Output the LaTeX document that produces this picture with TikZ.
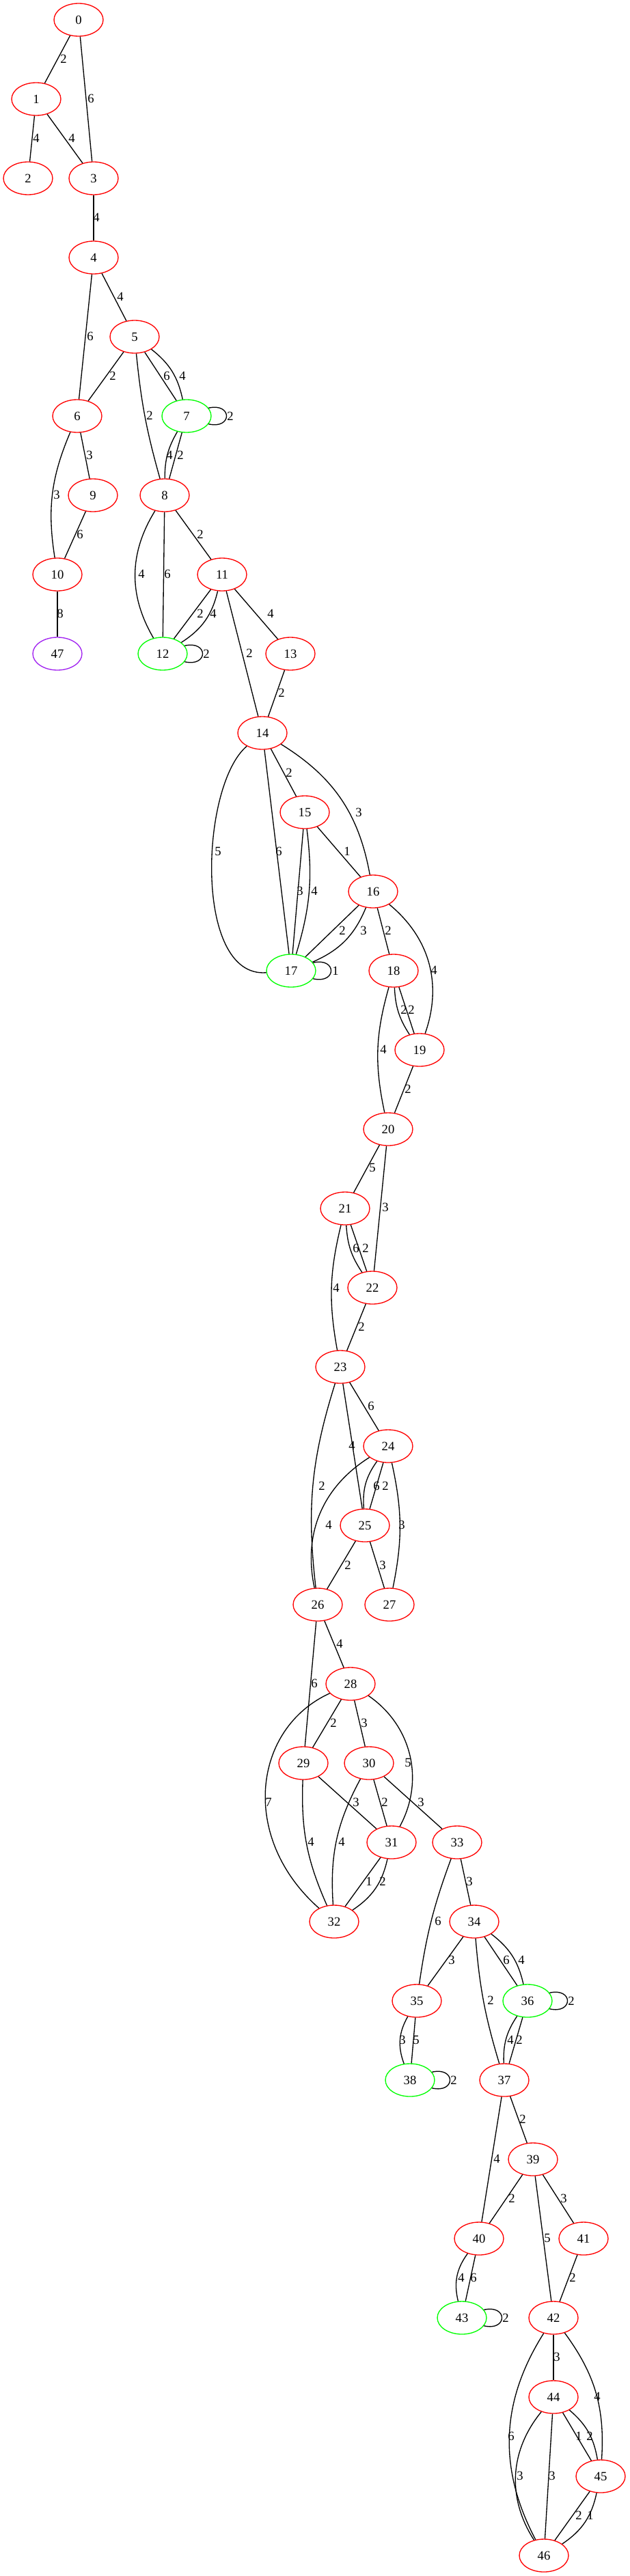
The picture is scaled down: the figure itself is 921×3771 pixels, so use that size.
\documentclass[tikz,border=0pt]{standalone}
\usepackage{fontspec}
\setmainfont{Liberation Serif}
\usetikzlibrary{shapes.geometric}
\definecolor{gvred}{RGB}{255,0,0}
\definecolor{gvgreen}{RGB}{0,255,0}
\definecolor{gvpurple}{RGB}{160,32,240}
\begin{document}
\begin{tikzpicture}[x=0.75pt,y=0.75pt,
  gv/.style={ellipse,draw,line width=1pt,minimum width=54pt,minimum height=36pt,inner sep=0pt,font=\fontsize{14}{16}\selectfont},
  rn/.style={gv,draw=gvred},
  gn/.style={gv,draw=gvgreen},
  pn/.style={gv,draw=gvpurple},
  lbl/.style={inner sep=0pt,font=\fontsize{14}{16}\selectfont},
  ed/.style={line width=1pt,black}]
\useasboundingbox (0,0) rectangle (921,-3771);
% nodes
\node[rn] (n0) at (115,-29) {0};
\node[rn] (n1) at (53,-145) {1};
\node[rn] (n2) at (41,-261) {2};
\node[rn] (n3) at (137,-261) {3};
\node[rn] (n4) at (137,-377) {4};
\node[rn] (n5) at (197,-493) {5};
\node[rn] (n6) at (113,-609) {6};
\node[gn] (n7) at (273,-609) {7};
\node[rn] (n8) at (241,-725) {8};
\node[rn] (n9) at (136,-725) {9};
\node[rn] (n10) at (84,-841) {10};
\node[rn] (n11) at (325,-841) {11};
\node[pn] (n47) at (84,-957) {47};
\node[gn] (n12) at (238,-957) {12};
\node[rn] (n13) at (425,-957) {13};
\node[rn] (n14) at (384,-1073) {14};
\node[rn] (n15) at (446,-1189) {15};
\node[rn] (n16) at (546,-1305) {16};
\node[gn] (n17) at (426,-1421) {17};
\node[rn] (n18) at (576,-1421) {18};
\node[rn] (n19) at (614,-1537) {19};
\node[rn] (n20) at (568,-1653) {20};
\node[rn] (n21) at (505,-1769) {21};
\node[rn] (n22) at (545,-1885) {22};
\node[rn] (n23) at (498,-2001) {23};
\node[rn] (n24) at (568,-2117) {24};
\node[rn] (n25) at (534,-2233) {25};
\node[rn] (n26) at (465,-2349) {26};
\node[rn] (n27) at (570,-2349) {27};
\node[rn] (n28) at (513,-2465) {28};
\node[rn] (n29) at (444,-2581) {29};
\node[rn] (n30) at (540,-2581) {30};
\node[rn] (n31) at (573,-2697) {31};
\node[rn] (n33) at (669,-2697) {33};
\node[rn] (n32) at (489,-2813) {32};
\node[rn] (n34) at (694,-2813) {34};
\node[rn] (n35) at (610,-2929) {35};
\node[gn] (n36) at (772,-2929) {36};
\node[rn] (n37) at (738,-3045) {37};
\node[gn] (n38) at (600,-3045) {38};
\node[rn] (n39) at (780,-3161) {39};
\node[rn] (n40) at (701,-3277) {40};
\node[rn] (n41) at (854,-3277) {41};
\node[rn] (n42) at (810,-3393) {42};
\node[gn] (n43) at (676,-3393) {43};
\node[rn] (n44) at (810,-3509) {44};
\node[rn] (n45) at (879,-3625) {45};
\node[rn] (n46) at (796,-3741) {46};
% edges
\draw[ed] (n0) -- (n1);
\draw[ed] (n0) -- (n3);
\draw[ed] (n1) -- (n2);
\draw[ed] (n1) -- (n3);
\draw[ed] (n3) -- (n4);
\draw[ed] (n4) -- (n6);
\draw[ed] (n4) -- (n5);
\draw[ed] (n5) -- (n6);
\draw[ed] (n5) to[bend right=5] (n8);
\draw[ed] (n5) -- (n7);
\draw[ed] (n5) to[bend left=20] (n7);
\draw[ed] (n7.20) .. controls +(35,8) and +(35,-8) .. (n7.-20);
\draw[ed] (n7) to[bend right=15] (n8);
\draw[ed] (n7) -- (n8);
\draw[ed] (n6) -- (n9);
\draw[ed] (n6) to[bend right=16] (n10);
\draw[ed] (n9) -- (n10);
\draw[ed] (n8) to[bend right=31] (n12);
\draw[ed] (n8) -- (n12);
\draw[ed] (n8) -- (n11);
\draw[ed] (n10) -- (n47);
\draw[ed] (n11) -- (n12);
\draw[ed] (n11) to[bend left=22] (n12);
\draw[ed] (n11) -- (n14);
\draw[ed] (n11) -- (n13);
\draw[ed] (n12.20) .. controls +(35,8) and +(35,-8) .. (n12.-20);
\draw[ed] (n13) -- (n14);
\draw[ed] (n14) -- (n15);
\draw[ed] (n14) to[bend left=24] (n16);
\draw[ed] (n14) -- (n17);
\draw[ed] (n14) .. controls (293,-1150) and (283,-1432) .. (n17);
\draw[ed] (n15) -- (n17);
\draw[ed] (n15) to[bend left=12] (n17);
\draw[ed] (n15) -- (n16);
\draw[ed] (n16) -- (n17);
\draw[ed] (n16) to[bend left=22] (n17);
\draw[ed] (n16) -- (n18);
\draw[ed] (n16) to[bend left=35] (n19);
\draw[ed] (n17.20) .. controls +(35,8) and +(35,-8) .. (n17.-20);
\draw[ed] (n18) to[bend right=15] (n19);
\draw[ed] (n18) -- (n19);
\draw[ed] (n18) to[bend right=14] (n20);
\draw[ed] (n19) -- (n20);
\draw[ed] (n20) -- (n21);
\draw[ed] (n20) -- (n22);
\draw[ed] (n21) to[bend right=15] (n22);
\draw[ed] (n21) -- (n22);
\draw[ed] (n21) to[bend right=12] (n23);
\draw[ed] (n22) -- (n23);
\draw[ed] (n23) -- (n24);
\draw[ed] (n23) -- (n25);
\draw[ed] (n23) to[bend right=12] (n26);
\draw[ed] (n24) to[bend right=20] (n25);
\draw[ed] (n24) -- (n25);
\draw[ed] (n24) to[bend right=35] (n26);
\draw[ed] (n24) to[bend left=12] (n27);
\draw[ed] (n25) -- (n26);
\draw[ed] (n25) -- (n27);
\draw[ed] (n26) -- (n28);
\draw[ed] (n26) -- (n29);
\draw[ed] (n28) -- (n29);
\draw[ed] (n28) -- (n30);
\draw[ed] (n28) to[bend left=42] (n31);
\draw[ed] (n28) .. controls (370,-2530) and (350,-2690) .. (n32);
\draw[ed] (n29) -- (n31);
\draw[ed] (n30) -- (n31);
\draw[ed] (n30) -- (n33);
\draw[ed] (n29) to[bend right=13] (n32);
\draw[ed] (n30) to[bend right=16] (n32);
\draw[ed] (n31) -- (n32);
\draw[ed] (n31) to[bend left=22] (n32);
\draw[ed] (n33) to[bend right=6] (n35);
\draw[ed] (n34) -- (n35);
\draw[ed] (n35) to[bend right=25] (n38);
\draw[ed] (n35) -- (n38);
\draw[ed] (n38.20) .. controls +(35,8) and +(35,-8) .. (n38.-20);
\draw[ed] (n33) -- (n34);
\draw[ed] (n34) -- (n36);
\draw[ed] (n34) to[bend left=20] (n36);
\draw[ed] (n34) to[bend right=6] (n37);
\draw[ed] (n36.20) .. controls +(35,8) and +(35,-8) .. (n36.-20);
\draw[ed] (n36) to[bend right=18] (n37);
\draw[ed] (n36) -- (n37);
\draw[ed] (n37) -- (n39);
\draw[ed] (n37) -- (n40);
\draw[ed] (n39) -- (n40);
\draw[ed] (n39) -- (n41);
\draw[ed] (n39) -- (n42);
\draw[ed] (n40) to[bend right=25] (n43);
\draw[ed] (n40) -- (n43);
\draw[ed] (n41) -- (n42);
\draw[ed] (n43.20) .. controls +(35,8) and +(35,-8) .. (n43.-20);
\draw[ed] (n42) -- (n44);
\draw[ed] (n42) to[bend right=30] (n46);
\draw[ed] (n42) to[bend left=20] (n45);
\draw[ed] (n44) to[bend right=36] (n46);
\draw[ed] (n44) -- (n46);
\draw[ed] (n44) -- (n45);
\draw[ed] (n44) to[bend left=20] (n45);
\draw[ed] (n45) -- (n46);
\draw[ed] (n45) to[bend left=22] (n46);
% edge labels
\node[lbl] (e1) at (93,-86) {2};
\node[lbl] (e2) at (133,-144) {6};
\node[lbl] (e3) at (53,-202) {4};
\node[lbl] (e4) at (105,-202) {4};
\node[lbl] (e5) at (141,-318) {4};
\node[lbl] (e6) at (132,-492) {6};
\node[lbl] (e7) at (176,-434) {4};
\node[lbl] (e8) at (165,-550) {2};
\node[lbl] (e9) at (219,-608) {2};
\node[lbl] (e10) at (244,-550) {6};
\node[lbl] (e11) at (267,-550) {4};
\node[lbl] (e12) at (337,-609) {2};
\node[lbl] (e13) at (248,-666) {4};
\node[lbl] (e14) at (264,-666) {2};
\node[lbl] (e15) at (131,-666) {3};
\node[lbl] (e16) at (83,-724) {3};
\node[lbl] (e17) at (117,-782) {6};
\node[lbl] (e18) at (207,-840) {4};
\node[lbl] (e19) at (245,-840) {6};
\node[lbl] (e20) at (293,-782) {2};
\node[lbl] (e21) at (88,-898) {8};
\node[lbl] (e22) at (293,-898) {2};
\node[lbl] (e23) at (312,-898) {4};
\node[lbl] (e24) at (365,-956) {2};
\node[lbl] (e25) at (396,-898) {4};
\node[lbl] (e26) at (302,-957) {2};
\node[lbl] (e27) at (412,-1014) {2};
\node[lbl] (e28) at (423,-1131) {2};
\node[lbl] (e29) at (525,-1189) {3};
\node[lbl] (e30) at (408,-1246) {6};
\node[lbl] (e31) at (319,-1246) {5};
\node[lbl] (e32) at (439,-1304) {3};
\node[lbl] (e33) at (460,-1304) {4};
\node[lbl] (e34) at (508,-1246) {1};
\node[lbl] (e35) at (501,-1362) {2};
\node[lbl] (e36) at (532,-1362) {3};
\node[lbl] (e37) at (568,-1362) {2};
\node[lbl] (e38) at (635,-1420) {4};
\node[lbl] (e39) at (491,-1421) {1};
\node[lbl] (e40) at (591,-1478) {2};
\node[lbl] (e41) at (602,-1478) {2};
\node[lbl] (e42) at (561,-1536) {4};
\node[lbl] (e43) at (597,-1594) {2};
\node[lbl] (e44) at (545,-1709) {5};
\node[lbl] (e45) at (564,-1767) {3};
\node[lbl] (e46) at (521,-1827) {6};
\node[lbl] (e47) at (535,-1827) {2};
\node[lbl] (e48) at (492,-1885) {4};
\node[lbl] (e49) at (529,-1942) {2};
\node[lbl] (e50) at (543,-2058) {6};
\node[lbl] (e51) at (515,-2116) {4};
\node[lbl] (e52) at (471,-2175) {2};
\node[lbl] (e53) at (551,-2175) {6};
\node[lbl] (e54) at (564,-2175) {2};
\node[lbl] (e55) at (481,-2232) {4};
\node[lbl] (e56) at (588,-2232) {3};
\node[lbl] (e57) at (509,-2291) {2};
\node[lbl] (e58) at (560,-2291) {3};
\node[lbl] (e59) at (497,-2406) {4};
\node[lbl] (e60) at (460,-2464) {6};
\node[lbl] (e61) at (488,-2522) {2};
\node[lbl] (e62) at (533,-2522) {3};
\node[lbl] (e63) at (597,-2580) {5};
\node[lbl] (e64) at (393,-2638) {7};
\node[lbl] (e65) at (521,-2638) {3};
\node[lbl] (e66) at (563,-2638) {2};
\node[lbl] (e67) at (616,-2638) {3};
\node[lbl] (e68) at (455,-2696) {4};
\node[lbl] (e69) at (500,-2696) {4};
\node[lbl] (e70) at (540,-2754) {1};
\node[lbl] (e71) at (560,-2754) {2};
\node[lbl] (e72) at (641,-2812) {6};
\node[lbl] (e73) at (661,-2869) {3};
\node[lbl] (e74) at (589,-2986) {3};
\node[lbl] (e75) at (609,-2986) {5};
\node[lbl] (e76) at (664,-3045) {2};
\node[lbl] (e77) at (687,-2754) {3};
\node[lbl] (e78) at (741,-2869) {6};
\node[lbl] (e79) at (763,-2869) {4};
\node[lbl] (e80) at (718,-2928) {2};
\node[lbl] (e81) at (836,-2929) {2};
\node[lbl] (e82) at (747,-2986) {4};
\node[lbl] (e83) at (760,-2986) {2};
\node[lbl] (e84) at (765,-3102) {2};
\node[lbl] (e85) at (727,-3160) {4};
\node[lbl] (e86) at (749,-3218) {2};
\node[lbl] (e87) at (825,-3218) {3};
\node[lbl] (e88) at (801,-3276) {5};
\node[lbl] (e89) at (675,-3334) {4};
\node[lbl] (e90) at (693,-3334) {6};
\node[lbl] (e91) at (838,-3334) {2};
\node[lbl] (e92) at (740,-3393) {2};
\node[lbl] (e93) at (815,-3450) {3};
\node[lbl] (e94) at (748,-3566) {6};
\node[lbl] (e95) at (874,-3508) {4};
\node[lbl] (e96) at (761,-3624) {3};
\node[lbl] (e97) at (808,-3624) {3};
\node[lbl] (e98) at (847,-3566) {1};
\node[lbl] (e99) at (863,-3566) {2};
\node[lbl] (e100) at (847,-3682) {2};
\node[lbl] (e101) at (864,-3682) {1};
\end{tikzpicture}
\end{document}
